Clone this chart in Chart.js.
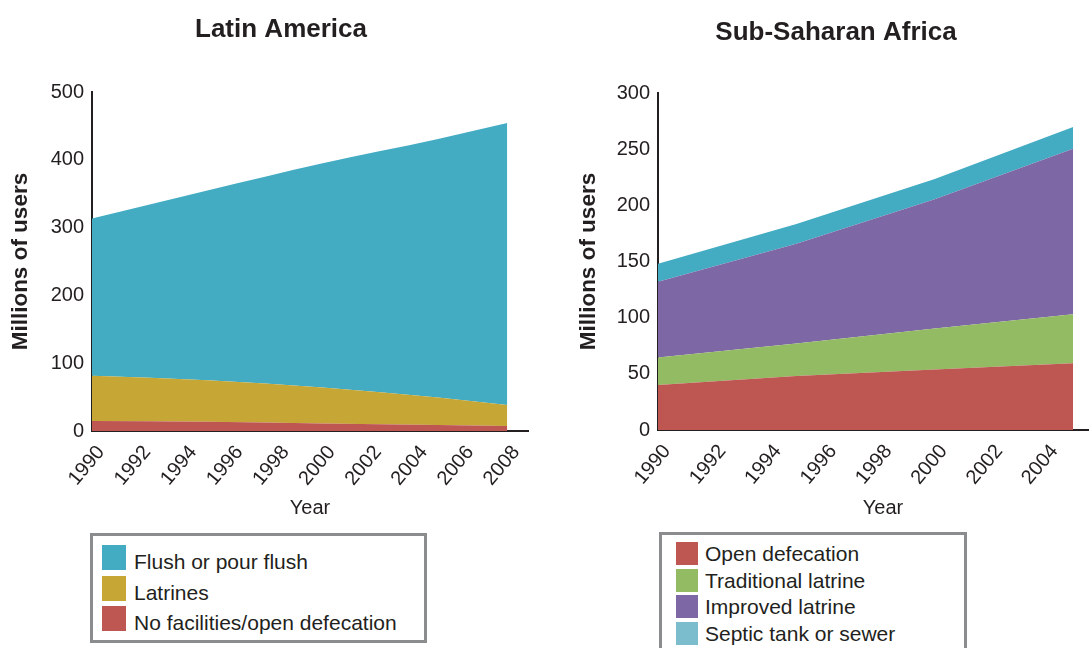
<!DOCTYPE html>
<html>
<head>
<meta charset="utf-8">
<script src="https://cdn.jsdelivr.net/npm/chart.js@4"></script>
<style>
  html, body { margin: 0; padding: 0; background: #fff; overflow: hidden; }
  body { width: 1089px; height: 648px; position: relative; font-family: "Liberation Sans", Arial, sans-serif; color: #231f20; }
  canvas { position: absolute; top: 0; }
  #laChart { left: 0; }
  #ssaChart { left: 560px; }
  .legend { position: absolute; box-sizing: border-box; border: 3px solid #8b8c8e; background: #fff; }
  .legend .sw { position: absolute; }
  .legend .tx { position: absolute; white-space: nowrap; line-height: 1; }
</style>
</head>
<body>
<canvas id="laChart" width="562" height="530"></canvas>
<canvas id="ssaChart" width="552" height="530"></canvas>
<div class="legend" id="laLegend" style="left:90px;top:533px;width:337px;height:110px;"></div>
<div class="legend" id="ssaLegend" style="left:659px;top:532px;width:308px;height:140px;"></div>
<script>
// LATIN AMERICA (millions of users)
const laYears = [1990, 1995, 2000, 2005, 2008];
const laNoFacilities = [14.7, 13.5, 11.2, 9, 7.4];
const laLatrines = [67, 61.5, 53, 40.5, 31];
const laFlush = [232, 280, 331, 381.5, 416];
const laTicks = [1990, 1992, 1994, 1996, 1998, 2000, 2002, 2004, 2006, 2008];

// SUB-SAHARAN AFRICA (millions of users)
const ssaYears = [1990, 1995, 2000, 2005];
const ssaOpen = [40, 48, 54, 59.5];
const ssaTraditional = [24.5, 29, 36.5, 43.5];
const ssaImproved = [67.5, 89, 115, 147.5];
const ssaSeptic = [16, 17.5, 18, 19.5];
const ssaTicks = [1990, 1992, 1994, 1996, 1998, 2000, 2002, 2004];

const FONT = '"Liberation Sans", Arial, sans-serif';
const INK = '#231f20';
Chart.defaults.font.family = FONT;
Chart.defaults.color = INK;

const pts = (xs, ys) => xs.map((x, i) => ({ x, y: ys[i] }));

function area(label, xs, ys, color, first, smooth) {
  return {
    label, data: pts(xs, ys),
    backgroundColor: color, borderWidth: 0, pointRadius: 0,
    fill: first ? 'origin' : '-1',
    cubicInterpolationMode: smooth ? 'monotone' : 'default',
    tension: 0
  };
}

// nudge the chart title sideways after layout
const titleShift = {
  id: 'titleShift',
  afterLayout(chart, args, opts) {
    const t = chart.titleBlock;
    if (t && opts.dx) { t.left += opts.dx; t.right += opts.dx; }
  }
};

function makeChart(id, cfg) {
  return new Chart(document.getElementById(id), {
    type: 'line',
    data: { datasets: cfg.datasets },
    plugins: [titleShift],
    options: {
      responsive: false,
      animation: false,
      events: [],
      layout: { padding: { left: 0, right: cfg.padRight, top: 0, bottom: 0 } },
      plugins: {
        legend: { display: false },
        tooltip: { enabled: false },
        titleShift: { dx: cfg.titleDx },
        title: {
          display: true, text: cfg.title, color: INK,
          font: { size: 26, weight: 'bold' },
          padding: { top: cfg.titleTop, bottom: cfg.titleBottom }
        }
      },
      scales: {
        x: {
          type: 'linear', min: 1990, max: cfg.xMax,
          grid: { display: false, drawTicks: false },
          border: { color: INK, width: 2 },
          afterBuildTicks: s => { s.ticks = cfg.ticks.map(v => ({ value: v })); },
          afterFit: s => { s.height = cfg.xHeight; },
          ticks: { autoSkip: false, minRotation: 50, maxRotation: 50, padding: 10, labelOffset: 9,
                   font: { size: 20 }, color: INK, callback: v => String(v) },
          title: { display: true, text: 'Year', color: INK, font: { size: 20 },
                   padding: { top: 0, bottom: 10 } }
        },
        y: {
          stacked: true, min: 0, max: cfg.yMax,
          grid: { display: false, drawTicks: false },
          border: { color: INK, width: 2 },
          afterFit: s => { s.width = cfg.yWidth; },
          ticks: { stepSize: cfg.yStep, padding: 8, font: { size: 20 }, color: INK },
          title: { display: true, text: 'Millions of users', color: INK,
                   font: { size: 22.5, weight: 'bold' },
                   padding: { top: cfg.yTitlePad, bottom: 0 } }
        }
      }
    }
  });
}

const laSets = [
  area('No facilities/open defecation', laYears, laNoFacilities, '#be5652', true, true),
  area('Latrines', laYears, laLatrines, '#c6a634', false, true),
  area('Flush or pour flush', laYears, laFlush, '#43acc3', false, true)
];
makeChart('laChart', {
  title: 'Latin America', titleTop: 14, titleBottom: 47, titleDx: 17,
  datasets: laSets, ticks: laTicks, xMax: 2008.9, yMax: 500, yStep: 100,
  xHeight: 99, yWidth: 92, yTitlePad: 7, padRight: 34
});

const ssaSets = [
  area('Open defecation', ssaYears, ssaOpen, '#be5652', true, false),
  area('Traditional latrine', ssaYears, ssaTraditional, '#93bb63', false, false),
  area('Improved latrine', ssaYears, ssaImproved, '#7d68a5', false, false),
  area('Septic tank or sewer', ssaYears, ssaSeptic, '#43acc3', false, false)
];
makeChart('ssaChart', {
  title: 'Sub-Saharan Africa', titleTop: 17, titleBottom: 45, titleDx: 2,
  datasets: ssaSets, ticks: ssaTicks, xMax: 2006.26, yMax: 300, yStep: 50,
  xHeight: 100, yWidth: 98, yTitlePad: 15, padRight: 4
});

// LEGENDS
function legend(id, items, o) {
  const box = document.getElementById(id);
  items.forEach((it, i) => {
    const sw = document.createElement('div');
    sw.className = 'sw';
    sw.style.cssText = `left:${o.swLeft}px;top:${o.top + i * o.step}px;width:${o.sw}px;height:${o.sh}px;background:${it.color}`;
    const tx = document.createElement('div');
    tx.className = 'tx';
    tx.textContent = it.label;
    tx.style.cssText = `left:${o.txLeft}px;top:${o.top + i * o.step + o.txOff}px;font-size:${o.fs}px`;
    box.appendChild(sw);
    box.appendChild(tx);
  });
}
legend('laLegend', [laSets[2], laSets[1], laSets[0]].map(d => ({ label: d.label, color: d.backgroundColor })),
  { swLeft: 9, top: 9, step: 30.5, sw: 24, sh: 25, txLeft: 41, txOff: 6, fs: 21 });
legend('ssaLegend', ssaSets.map((d, i) => ({ label: d.label, color: i === 3 ? '#7bbdcc' : d.backgroundColor })),
  { swLeft: 14, top: 7, step: 26.5, sw: 22, sh: 23, txLeft: 43, txOff: 1, fs: 21 });
</script>
</body>
</html>
